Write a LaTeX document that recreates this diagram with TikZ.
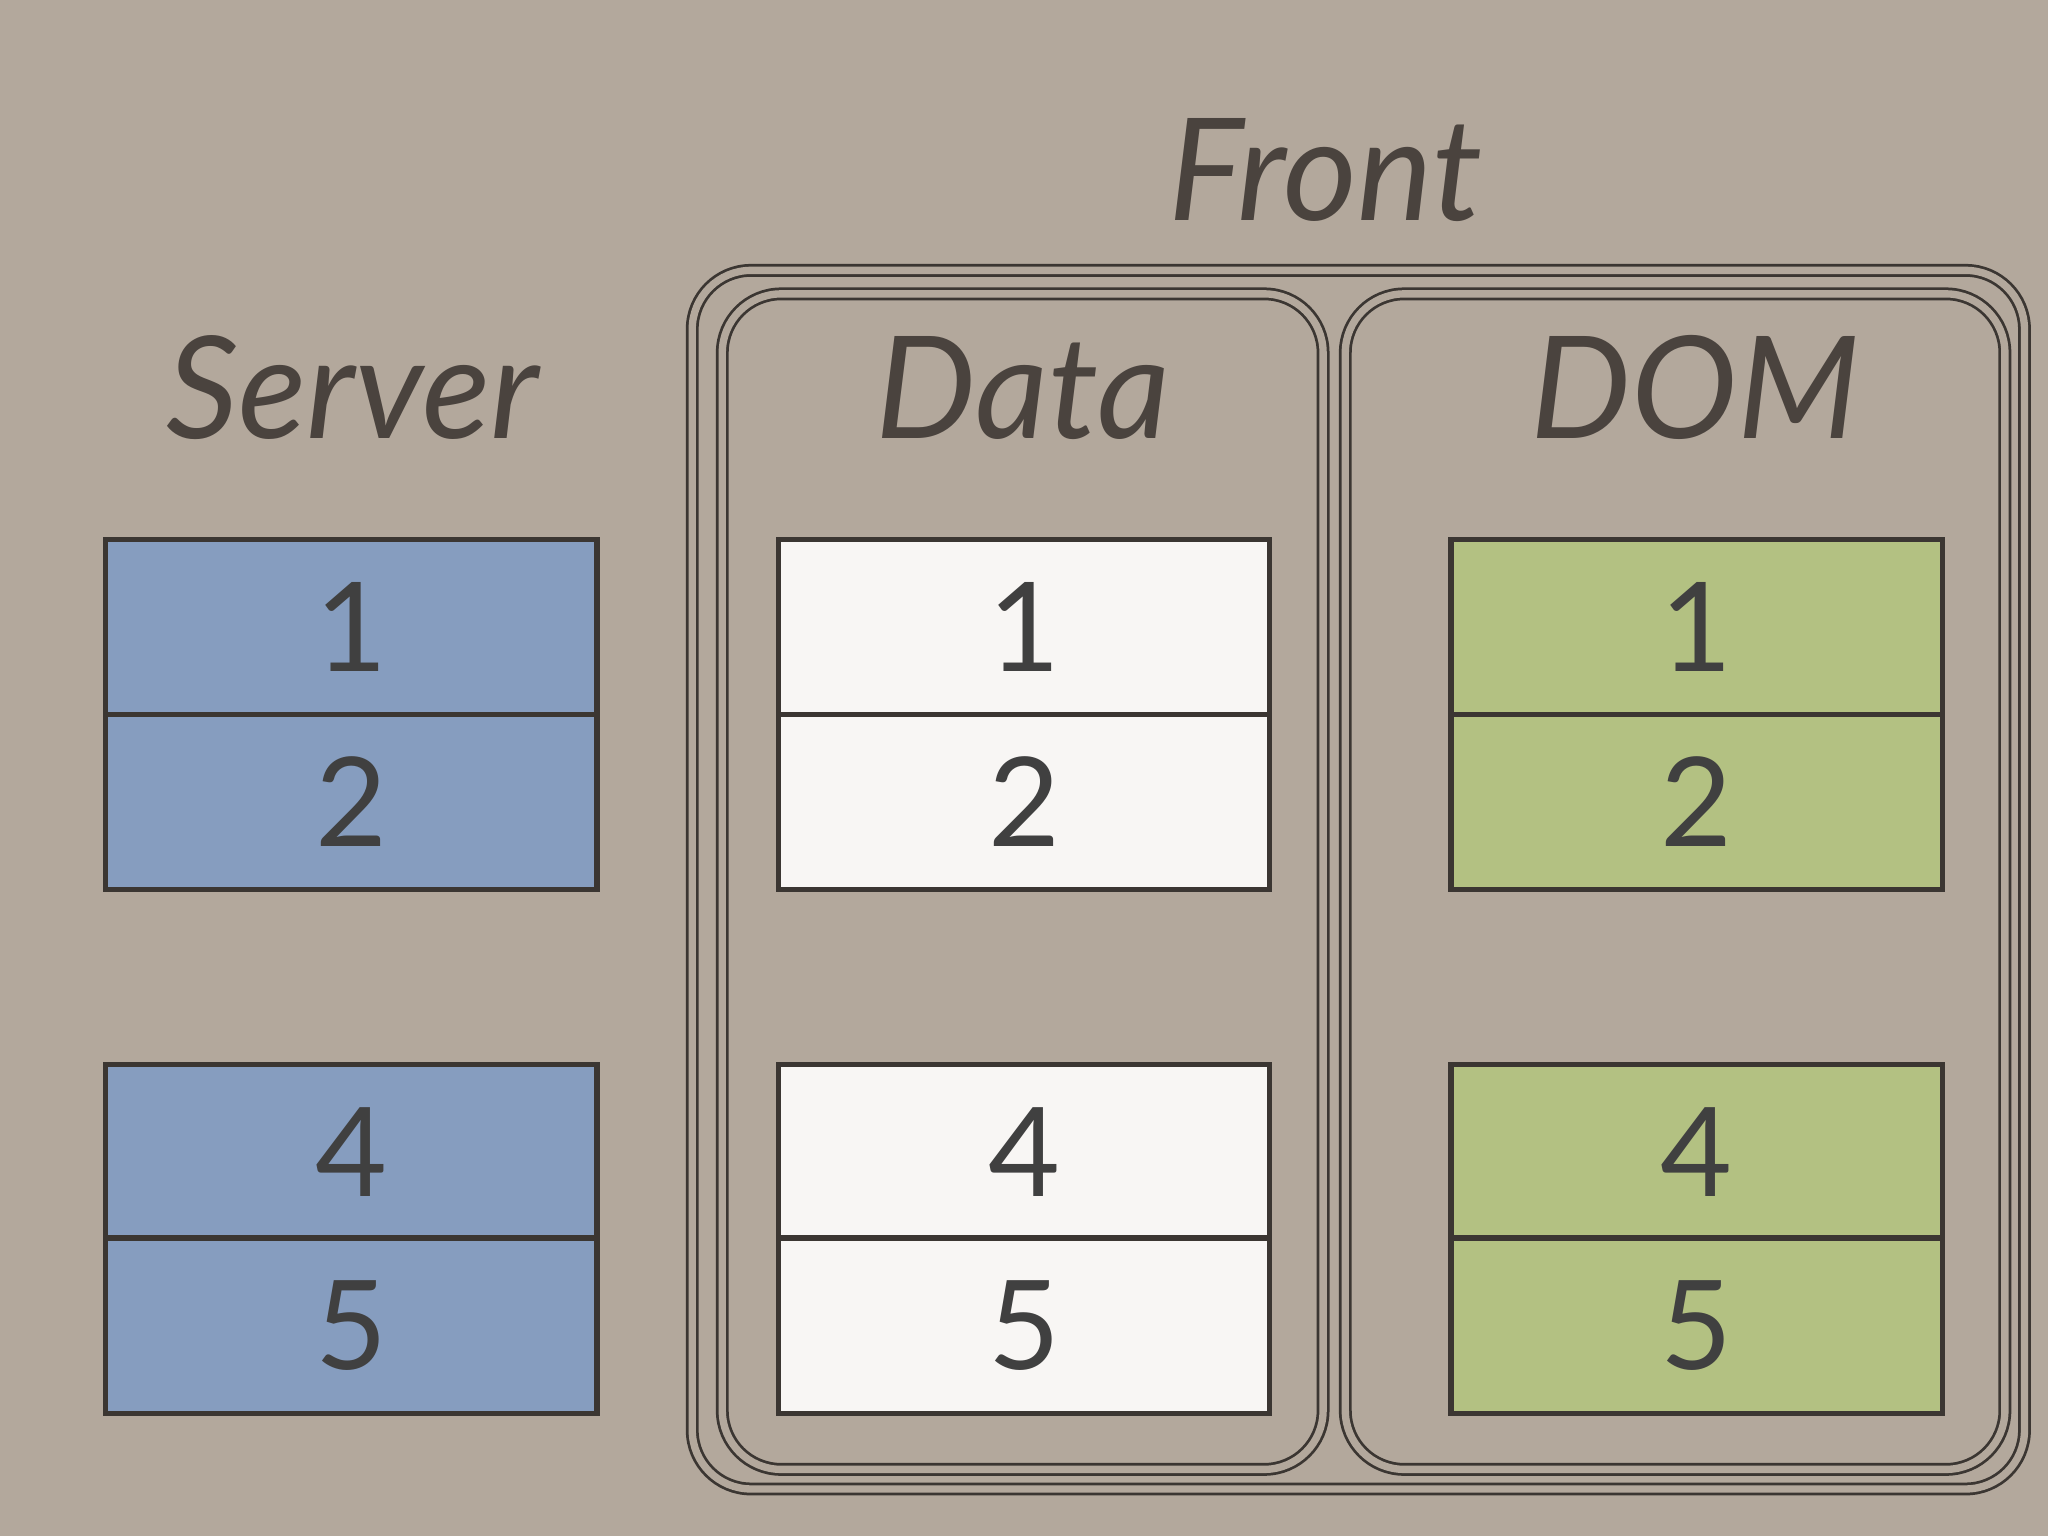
\documentclass[tikz,border=0pt]{standalone}
\usepackage{fontspec}
\setmainfont{Lato}
\definecolor{paper}{HTML}{B3A89C}
\definecolor{ink}{HTML}{4A433E}
\definecolor{servercol}{HTML}{869DBF}
\definecolor{datacol}{HTML}{F8F6F4}
\definecolor{domcol}{HTML}{B3C182}
\tikzset{
  cell/.style={draw=ink!80!black, line width=1.2pt, minimum width=3.76cm, minimum height=1.34cm,
    inner sep=0pt, text=black!75, font=\fontsize{27}{30}\selectfont},
  title/.style={text=ink, font=\fontsize{31}{34}\selectfont\itshape},
  frame/.style={draw=ink!80!black, line width=0.6pt, double=paper, double distance=1.6pt, rounded corners=0.45cm}
}
\begin{document}
\begin{tikzpicture}[x=0.01cm,y=-0.01cm]
\fill[paper] (0,0) rectangle (1568,1176);
\useasboundingbox (0,0) rectangle (1568,1176);

%% Frames
\draw[frame] (530,207) rectangle (1550,1140);
\draw[frame] (553,225) rectangle (1013,1125);
\draw[frame] (1030,225) rectangle (1535,1125);

%% Titles
\node[title] (front) at (1015,130) {Front};
\node[title] (server) at (270,297) {Server};
\node[title] (data) at (783,297) {Data};
\node[title] (dom) at (1298,297) {DOM};

%% Cells
\foreach \col/\x/\c in {server/269/servercol, data/784/datacol, dom/1299/domcol}{
  \foreach \n/\y in {1/480, 2/614, 4/882, 5/1015}{
    \node[cell, fill=\c] (\col\n) at (\x,\y) {\n};
  }
}
\end{tikzpicture}
\end{document}
